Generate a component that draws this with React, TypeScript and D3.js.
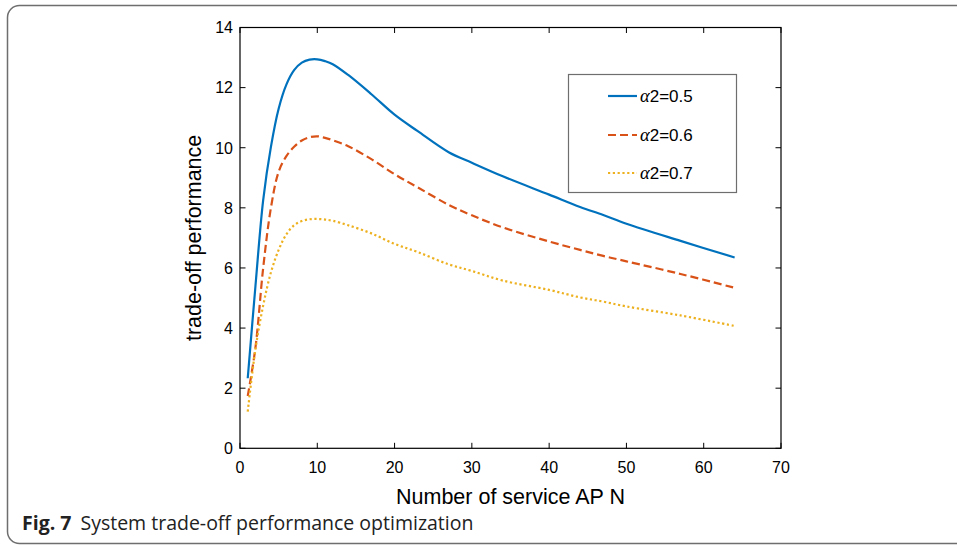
import React from 'react';
import * as d3 from 'd3';

// number of service APs (x) and trade-off performance for each alpha2
const N = [1, 2, 3, 4, 5, 6, 7, 8, 9, 10, 11, 12, 14, 17, 20, 23, 27, 30, 34, 40, 44, 47, 50, 57, 64];
const a05 = [2.33, 5.4, 8.26, 10.03, 11.3, 12.1, 12.58, 12.83, 12.93, 12.94, 12.88, 12.78, 12.42, 11.78, 11.1, 10.55, 9.85, 9.5, 9.05, 8.44, 8.03, 7.76, 7.47, 6.9, 6.35];
const a06 = [1.74, 3.35, 6.0, 8.0, 9.2, 9.72, 10.03, 10.24, 10.35, 10.38, 10.33, 10.25, 10.05, 9.62, 9.12, 8.68, 8.1, 7.75, 7.35, 6.88, 6.6, 6.4, 6.22, 5.8, 5.34];
const a07 = [1.22, 3.3, 4.75, 5.85, 6.6, 7.12, 7.42, 7.56, 7.62, 7.63, 7.61, 7.57, 7.42, 7.15, 6.8, 6.53, 6.12, 5.9, 5.58, 5.27, 5.02, 4.88, 4.72, 4.42, 4.07];
const seriesNames = ['0.5', '0.6', '0.7'];
const xTicks = [0, 10, 20, 30, 40, 50, 60, 70];
const yTicks = [0, 2, 4, 6, 8, 10, 12, 14];

const colors = ['#0072BD', '#D95319', '#EDB120'];
const dashes = ['none', '8 4', '2.2 2.6'];

export default function App() {
  const left = 240, right = 781, top = 27.5, bottom = 448.3;
  const x = d3.scaleLinear().domain([0, 70]).range([left, right]);
  const y = d3.scaleLinear().domain([0, 14]).range([bottom, top]);
  const line = d3.line<number>()
    .x((_, i) => x(N[i]))
    .y(d => y(d))
    .curve(d3.curveCatmullRom.alpha(0.5));
  const all = [a05, a06, a07];
  const tick = 5.5;
  const font = 'Liberation Sans, Arial, sans-serif';

  const lg = { x: 568.5, y: 74.5, w: 168, h: 118 };
  const rows = [96, 135, 173];

  return (
    <svg width={957} height={545} style={{ position: 'absolute', left: 0, top: 0 }}>
      <rect x={0} y={0} width={957} height={545} fill="#fff" />
      <rect x={7.5} y={5.5} width={1000} height={538} rx={12} fill="none" stroke="#6e6e6e" strokeWidth={1.5} />

      {all.map((s, i) => (
        <path key={i} d={line(s) || ''} fill="none" stroke={colors[i]} strokeWidth={2.2}
          strokeDasharray={dashes[i]} />
      ))}

      {/* axes box */}
      <rect x={left} y={top} width={right - left} height={bottom - top} fill="none" stroke="#000" strokeWidth={1.2} />
      {xTicks.map(t => (
        <g key={'x' + t}>
          <line x1={x(t)} x2={x(t)} y1={bottom} y2={bottom - tick} stroke="#000" />
          <line x1={x(t)} x2={x(t)} y1={top} y2={top + tick} stroke="#000" />
          <text x={x(t)} y={473} textAnchor="middle" fontFamily={font} fontSize={16}>{t}</text>
        </g>
      ))}
      {yTicks.map(t => (
        <g key={'y' + t}>
          <line x1={left} x2={left + tick} y1={y(t)} y2={y(t)} stroke="#000" />
          <line x1={right} x2={right - tick} y1={y(t)} y2={y(t)} stroke="#000" />
          <text x={233} y={y(t) + 5.8} textAnchor="end" fontFamily={font} fontSize={16}>{t}</text>
        </g>
      ))}

      <text x={(left + right) / 2} y={504} textAnchor="middle" fontFamily={font} fontSize={21.5}>Number of service AP N</text>
      <text transform={`translate(201,${(top + bottom) / 2}) rotate(-90)`} textAnchor="middle" fontFamily={font} fontSize={21.5}>trade-off performance</text>

      {/* legend */}
      <rect x={lg.x} y={lg.y} width={lg.w} height={lg.h} fill="#fff" stroke="#6e6e6e" strokeWidth={1.2} />
      {seriesNames.map((n, i) => (
        <g key={n}>
          <line x1={608} x2={637} y1={rows[i]} y2={rows[i]} stroke={colors[i]} strokeWidth={2.2} strokeDasharray={dashes[i]} />
          <text x={640} y={rows[i] + 6} fontFamily={font} fontSize={17}>
            <tspan fontFamily="Liberation Serif, serif" fontStyle="italic" fontSize={18.5}>α</tspan>2={n}
          </text>
        </g>
      ))}

      {/* caption */}
      <text x={22} y={530} fontFamily="Open Sans, Noto Sans, sans-serif" fontSize={19.5} fill="#222">
        <tspan fontWeight="bold">Fig. 7</tspan>
        <tspan dx={9}>System trade-off performance optimization</tspan>
      </text>
    </svg>
  );
}
